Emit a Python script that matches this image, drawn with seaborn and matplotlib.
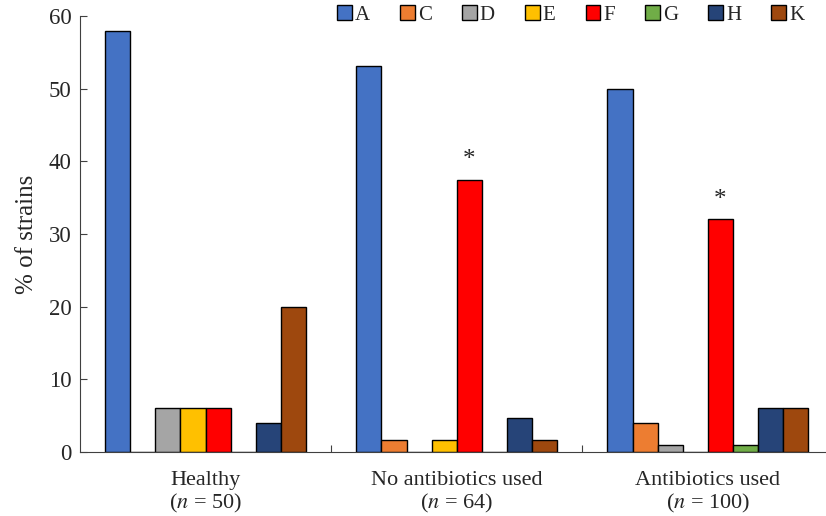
import pandas as pd
import numpy as np
import matplotlib
matplotlib.use("Agg")
import matplotlib.pyplot as plt
import seaborn as sns

groups = ["Healthy\n($\\mathit{n}$ = 50)",
          "No antibiotics used\n($\\mathit{n}$ = 64)",
          "Antibiotics used\n($\\mathit{n}$ = 100)"]
phylogroups = ["A", "C", "D", "E", "F", "G", "H", "K"]
healthy = [58, 0, 6, 6, 6, 0, 4, 20]
no_abx = [53.1, 1.6, 0, 1.6, 37.5, 0, 4.7, 1.6]
abx = [50, 4, 1, 0, 32, 1, 6, 6]
colors = ["#4472C4", "#ED7D31", "#A5A5A5", "#FFC000",
          "#FF0000", "#70AD47", "#264478", "#9E480E"]
star_groups = [1, 2]

rows = []
for g, vals in zip(groups, [healthy, no_abx, abx]):
    for p, v in zip(phylogroups, vals):
        rows.append({"group": g, "phylo": p, "pct": v})
df = pd.DataFrame(rows)

sns.set_style("ticks")
plt.rcParams["font.family"] = ["Liberation Serif", "DejaVu Serif"]
plt.rcParams["mathtext.fontset"] = "stix"

fig = plt.figure(figsize=(8.26, 5.16), dpi=100)
ax = fig.add_axes([80 / 826, 64 / 516, 746 / 826, 436 / 516])

sns.barplot(data=df, x="group", y="pct", hue="phylo", hue_order=phylogroups,
            palette=colors, width=0.8, edgecolor="black", linewidth=1.0,
            saturation=1, ax=ax, legend=False)

# asterisks over F bars
for gi in star_groups:
    fi = phylogroups.index("F")
    xpos = gi - 0.4 + 0.1 * fi + 0.05
    val = [healthy, no_abx, abx][gi][fi]
    ax.text(xpos, val + 1.2, "*", ha="center", va="bottom", fontsize=18)

ax.set_xlim(-0.5, 2.47)
ax.set_ylim(0, 60)
ax.set_yticks(range(0, 61, 10))
ax.set_xticks([0.5, 1.5])
ax.set_xticklabels([])
ax.set_xticks([0, 1, 2], minor=True)
ax.set_xticklabels(groups, minor=True, fontsize=16, linespacing=1.1)
ax.tick_params(axis="x", which="minor", length=0, pad=14)
ax.tick_params(axis="x", which="major", direction="in", length=5, color="#404040")
ax.tick_params(axis="y", direction="in", length=5, color="#404040", labelsize=16.5, pad=6)
ax.set_xlabel("")
ax.set_ylabel("% of strains", fontsize=18, labelpad=8)
for s in ["top", "right"]:
    ax.spines[s].set_visible(False)
for s in ["left", "bottom"]:
    ax.spines[s].set_color("#404040")
    ax.spines[s].set_zorder(5)

handles = [plt.Rectangle((0, 0), 1, 1, facecolor=c, edgecolor="black", linewidth=1)
           for c in colors]
fig.legend(handles, phylogroups, loc="center", bbox_to_anchor=(0.691, 0.971),
           ncol=8, frameon=False, fontsize=15, handlelength=0.7, handleheight=0.7,
           handletextpad=0.15, columnspacing=1.45, borderaxespad=0, borderpad=0)

fig.savefig("out.png", dpi=100)
